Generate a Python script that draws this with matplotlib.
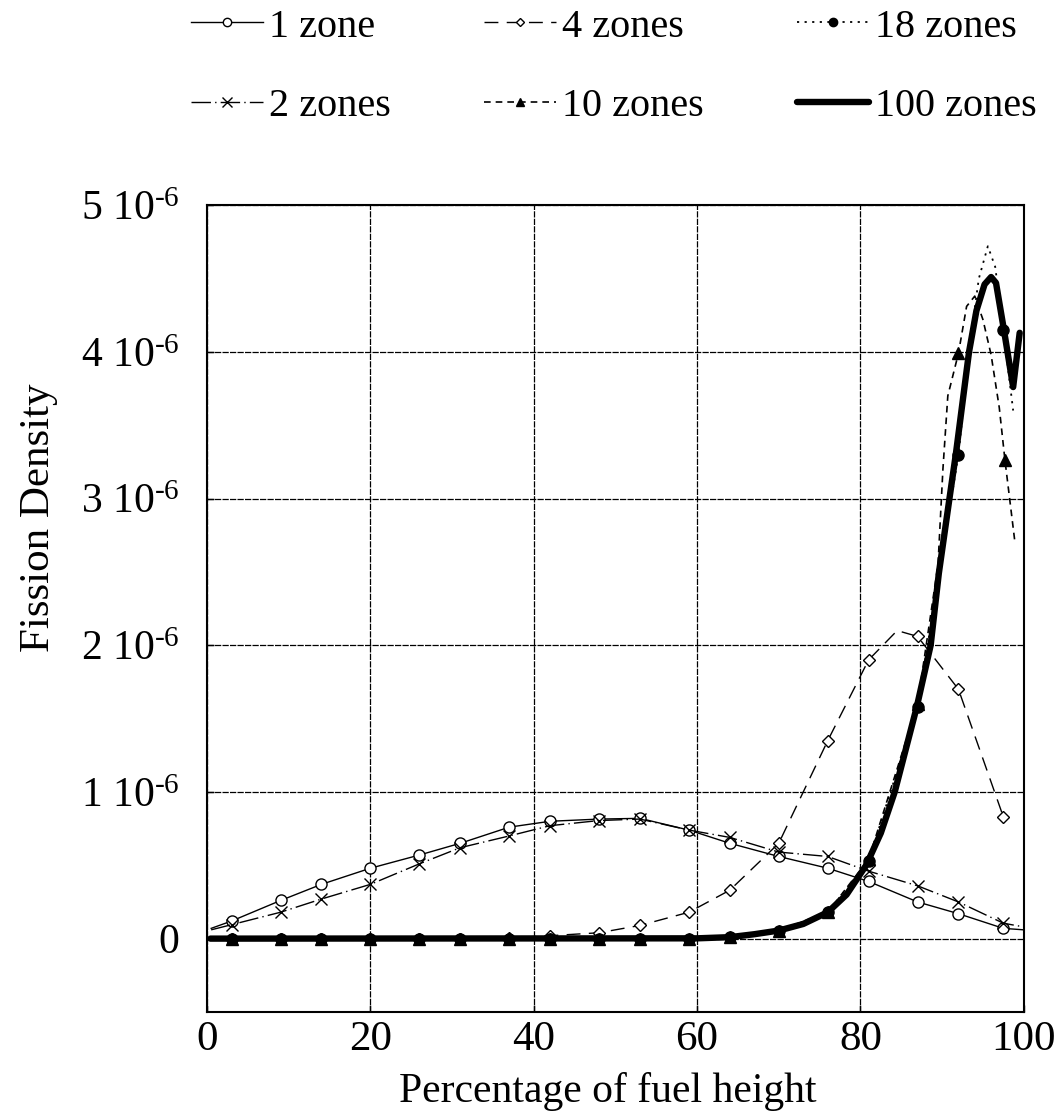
import matplotlib
matplotlib.use("Agg")
import matplotlib.pyplot as plt

plt.rcParams['font.family'] = ['Liberation Serif', 'DejaVu Serif']
plt.rcParams['mathtext.fontset'] = 'custom'
plt.rcParams['mathtext.rm'] = 'Liberation Serif'
plt.rcParams['mathtext.it'] = 'Liberation Serif'

# fission density values in units of 1e-6, x in % of fuel height
x_1zone = [0.5, 3, 9, 14, 20, 26, 31, 37, 42, 48, 53, 59, 64, 70, 76, 81, 87, 92, 97.5, 100]
y_1zone = [0.07, 0.12, 0.26, 0.37, 0.48, 0.57, 0.65, 0.76, 0.80, 0.815, 0.82, 0.74, 0.65, 0.56,
           0.48, 0.39, 0.25, 0.17, 0.07, 0.06]

x_2zones = [0.5, 3, 9, 14, 20, 26, 31, 37, 42, 48, 53, 59, 64, 70, 76, 81, 87, 92, 97.5, 100]
y_2zones = [0.06, 0.095, 0.18, 0.27, 0.37, 0.51, 0.62, 0.70, 0.77, 0.805, 0.815, 0.74, 0.69, 0.59,
            0.56, 0.46, 0.36, 0.25, 0.105, 0.08]

x_4zones = [0.5, 3, 9, 14, 20, 26, 31, 37, 42, 48, 53, 59, 64, 70, 76, 81, 84.5, 87, 92, 97.5]
y_4zones = [0, 0, 0, 0, 0, 0, 0, 0.005, 0.02, 0.04, 0.09, 0.18, 0.33, 0.65, 1.35, 1.90, 2.10,
            2.06, 1.70, 0.83]
mk_4zones = [1, 2, 3, 4, 5, 6, 7, 8, 9, 10, 11, 12, 13, 14, 15, 17, 18, 19]

x_10zones = [0.5, 3, 9, 14, 20, 26, 31, 37, 42, 48, 53, 59, 64, 70, 76, 81, 87, 89.5, 90.1, 90.7,
             92, 93, 94, 95, 96, 97, 97.7, 98.9]
y_10zones = [0, 0, 0, 0, 0, 0, 0, 0, 0, 0, 0, 0, 0.01, 0.055, 0.18, 0.54, 1.6, 2.55, 3.2, 3.7,
             3.99, 4.31, 4.38, 4.22, 3.98, 3.62, 3.26, 2.71]
mk_10zones = [1, 2, 3, 4, 5, 6, 7, 8, 9, 10, 11, 12, 13, 14, 15, 16, 20, 26]

x_18zones = [0.5, 3, 9, 14, 20, 26, 31, 37, 42, 48, 53, 59, 64, 70, 76, 81, 87, 92, 93.5, 94.5,
             95.6, 96.5, 97.5, 98.7]
y_18zones = [0, 0, 0, 0, 0, 0, 0, 0, 0, 0, 0, 0, 0.01, 0.055, 0.18, 0.53, 1.58, 3.30, 4.1, 4.5,
             4.72, 4.58, 4.15, 3.6]
mk_18zones = [1, 2, 3, 4, 5, 6, 7, 8, 9, 10, 11, 12, 13, 14, 15, 16, 17, 22]

x_100zones = [0.4, 60, 64, 67, 70, 73, 76, 78.3, 80.7, 82.5, 84.2, 86.9, 88.6, 89.6, 90.9, 91.7,
              93.3, 94.2, 95.2, 96.0, 96.6, 97.6, 98.7, 99.5]
y_100zones = [0, 0.002, 0.01, 0.03, 0.055, 0.1, 0.18, 0.30, 0.50, 0.72, 1.0, 1.58, 2.0, 2.49,
              3.0, 3.31, 4.0, 4.28, 4.46, 4.51, 4.47, 4.14, 3.76, 4.13]

y_ticks = [0, 1, 2, 3, 4, 5]
y_ticklabels = ['0', '1 10$^{\u20106}$', '2 10$^{\u20106}$', '3 10$^{\u20106}$',
                '4 10$^{\u20106}$', '5 10$^{\u20106}$']
x_ticks = [0, 20, 40, 60, 80, 100]

E = 1e-6

fig = plt.figure(figsize=(10.62, 11.15), dpi=100)
ax = fig.add_axes([0.195, 0.0924, 0.769, 0.7236])

l100, = ax.plot(x_100zones, [v * E for v in y_100zones], color='black', lw=4.6,
                solid_capstyle='round', zorder=2, label='100 zones')
l1, = ax.plot(x_1zone, [v * E for v in y_1zone], color='black', lw=1.0, marker='o', ms=8,
              mfc='white', mec='black', mew=1.0, markevery=list(range(1, 19)), zorder=3,
              label='1 zone')
l2, = ax.plot(x_2zones, [v * E for v in y_2zones], color='black', lw=1.0,
              linestyle=(0, (14, 3, 1, 3)), marker='x', ms=9, mew=1.0,
              markevery=list(range(1, 19)), zorder=3, label='2 zones')
l4, = ax.plot(x_4zones, [v * E for v in y_4zones], color='black', lw=1.0,
              linestyle=(0, (10, 6)), marker='D', ms=6, mfc='white', mec='black', mew=1.0,
              markevery=mk_4zones, zorder=3, label='4 zones')
l10, = ax.plot(x_10zones, [v * E for v in y_10zones], color='black', lw=1.2,
               linestyle=(0, (4, 3)), marker='^', ms=8, markevery=mk_10zones, zorder=3,
               label='10 zones')
l18, = ax.plot(x_18zones, [v * E for v in y_18zones], color='black', lw=1.3,
               linestyle=(0, (1.2, 3)), marker='o', ms=8, markevery=mk_18zones, zorder=3,
               label='18 zones')

ax.set_xlim(0, 100)
ax.set_ylim(-0.5 * E, 5 * E)
ax.set_xticks(x_ticks)
ax.set_yticks([t * E for t in y_ticks])
ax.set_yticklabels(y_ticklabels)
ax.tick_params(direction='in', length=5, width=1, labelsize=30, pad=20)
ax.tick_params(axis='x', labelsize=31, pad=6)
ax.grid(True, color='black', lw=0.9, linestyle=(0, (5, 1)))
for s in ax.spines.values():
    s.set_linewidth(1.5)

ax.set_xlabel('Percentage of fuel height', fontsize=30)
ax.xaxis.set_label_coords(0.49, -0.074)
ax.set_ylabel('Fission Density', fontsize=31)
ax.yaxis.set_label_coords(-0.182, 0.613)

fig.legend(handles=[l1, l2, l4, l10, l18, l100], ncol=3, loc='upper center',
           bbox_to_anchor=(0.578, 1.025), frameon=False, fontsize=29,
           handlelength=1.8, handletextpad=0.15, columnspacing=2.3, labelspacing=1.05,
           markerscale=0.75)

fig.savefig('out.png', dpi=100)
